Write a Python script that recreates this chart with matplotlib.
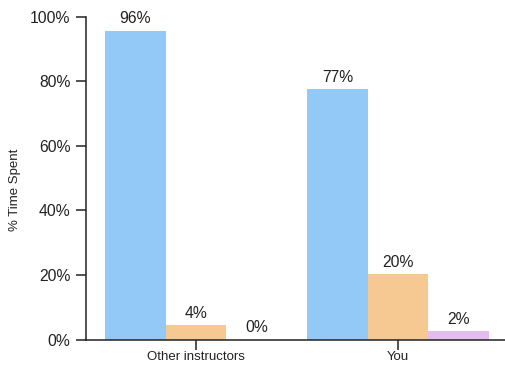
import matplotlib.pyplot as plt
import numpy as np

plt.rcParams['font.family'] = ['Liberation Sans', 'DejaVu Sans']

categories = ['Other instructors', 'You']
series_colors = ['#92C9F6', '#F5C991', '#E3BDEE']
# one list per series (blue, orange, purple)
values = [
    [95.7, 77.5],
    [4.4, 20.2],
    [0.0, 2.6],
]
labels = [
    ['96%', '77%'],
    ['4%', '20%'],
    ['0%', '2%'],
]

fig = plt.figure(figsize=(5.05, 3.67), dpi=100)
ax = fig.add_axes([86 / 505, 27.5 / 367, 1 - 86 / 505, 322.7 / 367])

x = np.arange(len(categories))
w = 0.3
txt = '#222222'
for i, (vals, labs, col) in enumerate(zip(values, labels, series_colors)):
    pos = x + (i - 1) * w
    ax.bar(pos, vals, width=w, color=col, linewidth=0)
    for px, v, lab in zip(pos, vals, labs):
        ax.annotate(lab, (px, v), xytext=(0, 3.3), textcoords='offset points',
                    ha='center', va='bottom', fontsize=11.3, color=txt)

ax.set_xlim(-110 / 202, (505 - 196) / 202)
ax.set_ylim(0, 100)
ax.set_xticks(x)
ax.set_xticklabels(categories, fontsize=9.5, color=txt)
ax.set_yticks(np.arange(0, 101, 20))
ax.set_yticklabels([f'{t}%' for t in range(0, 101, 20)], fontsize=11.3, color=txt)
ax.set_ylabel('% Time Spent', fontsize=9.5, color=txt)
ax.yaxis.set_label_coords(-0.155, 0.463)

for s in ['top', 'right']:
    ax.spines[s].set_visible(False)
for s in ['left', 'bottom']:
    ax.spines[s].set_linewidth(1.1)
    ax.spines[s].set_color(txt)
ax.tick_params(axis='both', direction='out', length=7, width=1.1, color=txt)
ax.tick_params(axis='y', pad=4.3)
ax.tick_params(axis='x', pad=1.5)

fig.savefig('out.png', dpi=100)
